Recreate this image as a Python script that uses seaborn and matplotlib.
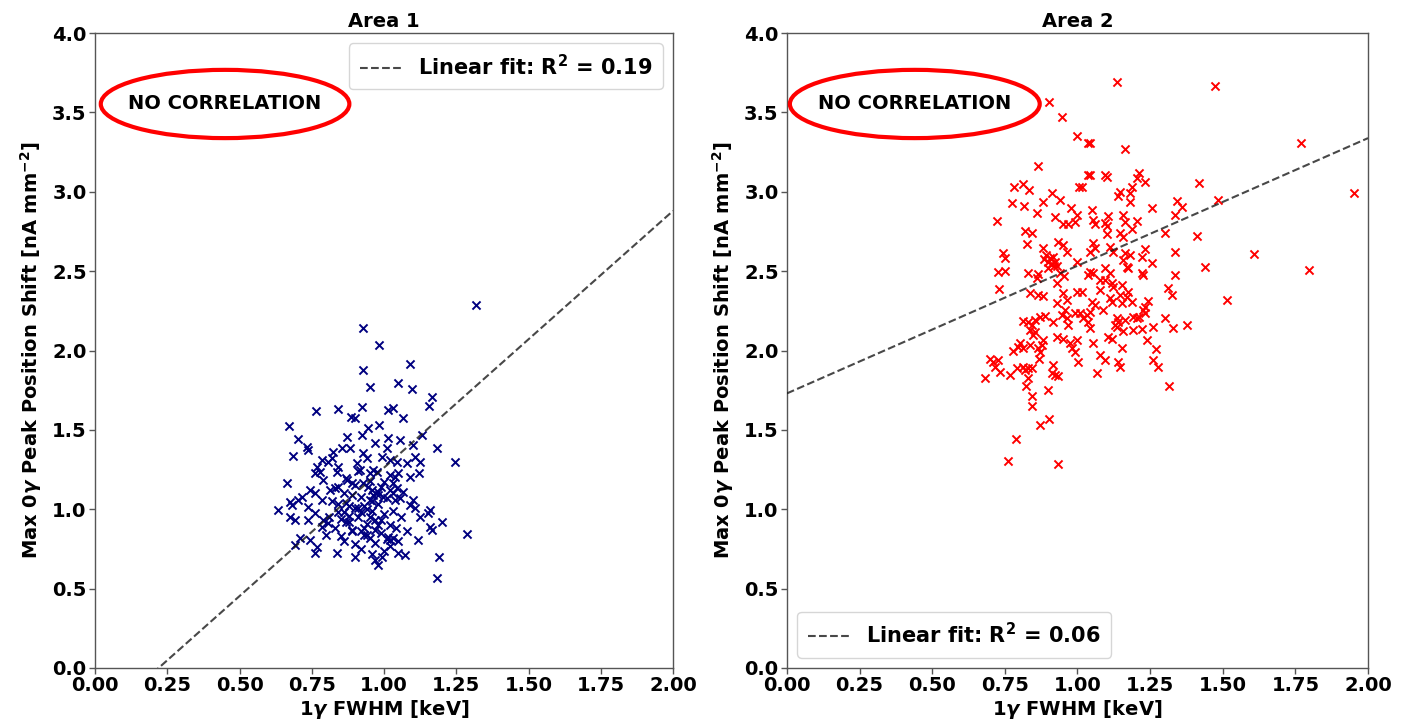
import numpy as np
import pandas as pd
import matplotlib
matplotlib.use("Agg")
import matplotlib.pyplot as plt
from matplotlib.patches import Ellipse
import seaborn as sns

# ---- Area 1: 1-gamma FWHM [keV] vs max 0-gamma peak position shift [nA mm^-2]
area1_fwhm = [
    1.317, 0.926, 0.984, 1.090, 0.926, 0.952, 1.049, 1.096, 1.165, 1.156,
    0.765, 0.840, 0.923, 0.886, 0.900, 1.013, 1.032, 1.067, 0.672, 0.984,
    0.946, 0.703, 0.871, 0.923, 1.015, 1.055, 1.130, 0.733, 0.738, 0.686,
    0.854, 0.882, 0.825, 0.784, 0.807, 0.819, 0.767, 0.779, 0.761, 0.836,
    0.842, 0.906, 0.917, 0.871, 0.888, 0.663, 0.790, 0.744, 0.761, 0.813,
    0.830, 0.715, 0.703, 0.675, 0.681, 0.784, 0.738, 0.634, 0.675, 0.692,
    0.761, 0.738, 0.790, 0.807, 0.784, 0.709, 0.692, 0.744, 0.767, 0.761,
    0.836, 0.969, 1.009, 1.101, 1.182, 1.246, 0.928, 0.940, 0.992, 1.021,
    1.044, 1.079, 1.107, 1.125, 0.963, 0.952, 0.975, 1.021, 1.038, 1.049,
    1.090, 1.122, 0.928, 0.946, 1.032, 1.044, 0.980, 0.998, 0.963, 1.067,
    1.055, 1.038, 1.101, 1.090, 1.107, 1.159, 1.153, 1.125, 1.200, 1.159,
    1.165, 1.286, 1.119, 1.015, 1.021, 1.032, 1.049, 1.073, 0.992, 0.980,
    1.190, 1.184,
    0.82, 0.84, 0.86, 0.87, 0.88, 0.89, 0.90, 0.91, 0.92, 0.93,
    0.94, 0.95, 0.96, 0.97, 0.98, 0.99, 1.00, 1.01, 1.02, 1.03,
    0.83, 0.85, 0.87, 0.90, 0.92, 0.94, 0.95, 0.97, 0.99, 1.00,
    0.81, 0.86, 0.88, 0.91, 0.93, 0.96, 0.98, 1.04, 1.06, 1.08,
    0.80, 0.84, 0.89, 0.92, 0.95, 0.97, 0.90, 0.96, 1.02, 1.05,
    0.85, 0.87, 0.89, 0.91, 0.93, 0.95, 0.97, 0.99, 1.01, 1.03,
    0.84, 0.88, 0.92, 0.96, 1.00, 0.86, 0.90, 0.94, 0.98, 1.02,
]
area1_shift = [
    2.287, 2.140, 2.035, 1.915, 1.877, 1.768, 1.793, 1.756, 1.705, 1.650,
    1.619, 1.630, 1.646, 1.583, 1.573, 1.625, 1.636, 1.573, 1.524, 1.530,
    1.510, 1.441, 1.457, 1.468, 1.447, 1.436, 1.468, 1.394, 1.373, 1.335,
    1.384, 1.384, 1.363, 1.310, 1.300, 1.321, 1.268, 1.237, 1.226, 1.237,
    1.268, 1.290, 1.247, 1.184, 1.163, 1.163, 1.184, 1.121, 1.100, 1.121,
    1.132, 1.079, 1.058, 1.048, 1.027, 1.058, 1.016, 0.995, 0.953, 0.932,
    0.974, 0.932, 0.932, 0.911, 0.890, 0.817, 0.775, 0.806, 0.764, 0.722,
    0.722, 1.415, 1.384, 1.405, 1.384, 1.296, 1.353, 1.321, 1.331, 1.310,
    1.300, 1.290, 1.331, 1.296, 1.247, 1.226, 1.237, 1.216, 1.205, 1.226,
    1.205, 1.226, 1.163, 1.142, 1.163, 1.132, 1.111, 1.079, 1.090, 1.111,
    1.069, 1.058, 1.058, 1.027, 1.006, 0.995, 0.974, 0.953, 0.922, 0.890,
    0.869, 0.842, 0.806, 0.827, 0.806, 0.817, 0.722, 0.712, 0.701, 0.649,
    0.697, 0.565,
    1.05, 0.98, 1.10, 0.92, 1.02, 0.86, 1.15, 0.95, 1.08, 0.88,
    1.00, 0.82, 1.12, 0.93, 1.03, 0.85, 0.97, 1.07, 0.90, 0.99,
    0.88, 0.83, 1.20, 0.78, 0.75, 0.91, 1.18, 0.79, 1.14, 0.74,
    0.95, 0.80, 0.96, 1.24, 1.02, 0.72, 0.90, 0.88, 0.95, 0.86,
    0.84, 1.14, 1.09, 0.98, 0.95, 0.68, 0.70, 1.05, 1.12, 0.80,
    0.94, 1.04, 0.87, 1.01, 0.84, 1.06, 0.87, 0.93, 0.81, 1.10,
    1.03, 0.92, 0.86, 0.99, 1.17, 0.98, 1.01, 0.84, 1.09, 0.77,
]

# ---- Area 2
area2_fwhm = [
    0.902, 0.946, 0.997, 1.037, 0.865, 1.037, 0.781, 0.813, 0.833, 1.006,
    0.773, 0.816, 0.882, 0.911, 0.940, 0.860, 0.923, 0.978, 0.997, 0.991,
    0.968, 0.951, 0.722, 0.819, 0.842, 0.825, 0.934, 0.951, 0.882, 0.745,
    0.750, 0.963, 0.997,
    0.893, 0.905, 0.898, 0.915, 0.922, 0.885, 0.910, 0.930, 0.900, 0.940,
    0.955, 0.920,
    1.137, 1.473, 1.043, 1.164, 1.043, 1.095, 1.101, 1.213, 1.204, 1.232,
    1.419, 1.014, 1.146, 1.140, 1.187, 1.179, 1.181, 1.485, 1.341, 1.359,
    1.336, 1.255, 1.049, 1.106, 1.158, 1.164, 1.052, 1.060, 1.095, 1.101,
    1.206, 1.187, 1.146, 1.158, 1.101, 1.301, 1.412, 1.054, 1.060, 1.043,
    1.112, 1.123, 1.232, 1.336, 1.164, 1.181, 1.158, 1.221, 1.255, 1.439,
    1.769, 1.953, 1.608, 1.798, 1.514,
    0.727, 0.750, 0.831, 0.865, 0.860, 0.928, 0.731, 0.836, 0.865, 0.882,
    0.949, 0.963, 0.997, 0.928, 0.957, 0.946, 0.963, 0.991, 0.813, 0.831,
    0.854, 0.842, 0.871, 0.888, 0.917, 0.968, 0.836, 0.854, 0.848, 0.882,
    0.877, 0.928, 0.951, 0.974, 0.997, 0.802, 0.796, 0.813, 0.836, 0.865,
    0.871, 0.779, 0.980, 0.991, 0.868, 0.699, 0.710, 0.727, 0.716, 0.733,
    0.791, 0.813, 0.831, 0.819, 0.842, 0.768, 0.917, 0.911, 0.923, 0.934,
    1.003, 0.682, 0.831, 0.823, 0.900, 0.842, 0.842, 0.903, 0.871, 0.788,
    0.760, 0.932,
    1.169, 1.175, 1.043, 1.054, 1.037, 1.095, 1.112, 1.221, 1.227, 1.336,
    1.077, 1.095, 1.118, 1.123, 1.152, 1.077, 1.014, 1.175, 1.169, 1.146,
    1.313, 1.325, 1.112, 1.118, 1.049, 1.060, 1.152, 1.187, 1.243, 1.232,
    1.009, 1.020, 1.032, 1.043, 1.037, 1.089, 1.135, 1.140, 1.164, 1.227,
    1.232, 1.192, 1.204, 1.213, 1.301, 1.043, 1.129, 1.135, 1.158, 1.192,
    1.221, 1.259, 1.328, 1.378, 1.106, 1.118, 1.238, 1.054, 1.152, 1.270,
    1.077, 1.095, 1.140, 1.146, 1.261, 1.278, 1.068, 1.315,
]
area2_shift = [
    3.563, 3.473, 3.353, 3.305, 3.164, 3.106, 3.028, 3.049, 3.011, 3.032,
    2.927, 2.910, 2.937, 2.990, 2.948, 2.864, 2.843, 2.896, 2.854, 2.811,
    2.797, 2.797, 2.818, 2.755, 2.738, 2.671, 2.685, 2.665, 2.644, 2.612,
    2.581, 2.622, 2.559,
    2.600, 2.580, 2.560, 2.590, 2.560, 2.575, 2.545, 2.535, 2.520, 2.490,
    2.470, 2.530,
    3.693, 3.668, 3.309, 3.269, 3.106, 3.106, 3.095, 3.120, 3.085, 3.063,
    3.057, 3.032, 3.000, 2.973, 3.032, 2.990, 2.937, 2.948, 2.942, 2.906,
    2.854, 2.900, 2.885, 2.847, 2.854, 2.811, 2.822, 2.797, 2.801, 2.784,
    2.818, 2.763, 2.738, 2.717, 2.734, 2.738, 2.723, 2.675, 2.644, 2.622,
    2.654, 2.622, 2.637, 2.622, 2.614, 2.600, 2.570, 2.591, 2.549, 2.528,
    3.309, 2.994, 2.606, 2.507, 2.318,
    2.496, 2.503, 2.490, 2.482, 2.455, 2.423, 2.387, 2.360, 2.350, 2.343,
    2.360, 2.318, 2.370, 2.297, 2.255, 2.224, 2.203, 2.234, 2.186, 2.181,
    2.192, 2.161, 2.213, 2.217, 2.181, 2.161, 2.129, 2.118, 2.098, 2.066,
    2.035, 2.083, 2.071, 2.049, 2.066, 2.045, 2.024, 2.014, 2.035, 2.014,
    1.993, 1.997, 2.014, 1.993, 1.946, 1.945, 1.929, 1.940, 1.898, 1.866,
    1.888, 1.898, 1.888, 1.877, 1.888, 1.846, 1.909, 1.856, 1.846, 1.839,
    1.929, 1.825, 1.825, 1.776, 1.751, 1.713, 1.650, 1.567, 1.531, 1.441,
    1.306, 1.283,
    2.528, 2.518, 2.496, 2.486, 2.476, 2.518, 2.490, 2.486, 2.476, 2.476,
    2.444, 2.444, 2.423, 2.402, 2.413, 2.381, 2.367, 2.370, 2.339, 2.350,
    2.392, 2.350, 2.329, 2.307, 2.307, 2.287, 2.301, 2.307, 2.314, 2.276,
    2.234, 2.203, 2.224, 2.245, 2.181, 2.255, 2.203, 2.181, 2.192, 2.255,
    2.234, 2.209, 2.203, 2.209, 2.203, 2.140, 2.161, 2.150, 2.125, 2.129,
    2.135, 2.146, 2.140, 2.161, 2.087, 2.071, 2.066, 2.045, 2.014, 2.008,
    1.972, 1.940, 1.929, 1.898, 1.940, 1.898, 1.856, 1.776,
]

# Linear fit results (slope, intercept, R^2) per area
fit_slope = [1.618, 0.804]
fit_intercept = [-0.356, 1.73]
fit_r2 = ["0.19", "0.06"]

area_titles = ["Area 1", "Area 2"]
marker_colors = ["navy", "red"]
legend_locs = ["upper right", "lower left"]
note_centers = [0.45, 0.44]

x_ticks = [0.00, 0.25, 0.50, 0.75, 1.00, 1.25, 1.50, 1.75, 2.00]
y_ticks = [0.0, 0.5, 1.0, 1.5, 2.0, 2.5, 3.0, 3.5, 4.0]

sns.set_theme(style="ticks")
plt.rcParams["font.family"] = ["DejaVu Sans"]
plt.rcParams["font.weight"] = "bold"
plt.rcParams["axes.labelweight"] = "bold"
plt.rcParams["axes.titleweight"] = "bold"
plt.rcParams["text.color"] = "black"
plt.rcParams["axes.labelcolor"] = "black"
plt.rcParams["xtick.color"] = "black"
plt.rcParams["ytick.color"] = "black"

fig = plt.figure(figsize=(14.2, 7.26), dpi=100)
ax1 = fig.add_axes([0.0669, 0.0799, 0.4071, 0.8746])
ax2 = fig.add_axes([0.5542, 0.0799, 0.4092, 0.8746])

datasets = [(area1_fwhm, area1_shift), (area2_fwhm, area2_shift)]

for i, ax in enumerate([ax1, ax2]):
    xs, ys = datasets[i]
    df = pd.DataFrame({"fwhm": xs, "shift": ys})
    sns.scatterplot(data=df, x="fwhm", y="shift", marker="x", color=marker_colors[i],
                    s=34, linewidth=1.4, ax=ax, zorder=3)

    xfit = np.array([0.0, 2.0])
    fit_df = pd.DataFrame({"fwhm": xfit, "shift": fit_slope[i] * xfit + fit_intercept[i]})
    sns.lineplot(data=fit_df, x="fwhm", y="shift", color="k", alpha=0.8, linewidth=1.5,
                 linestyle="--", ax=ax, label=f"Linear fit: R$^2$ = {fit_r2[i]}", zorder=4)

    ax.set_xlim(0, 2)
    ax.set_ylim(0, 4)
    ax.set_xticks(x_ticks)
    ax.set_yticks(y_ticks)
    ax.set_xticklabels([f"{t:.2f}" for t in x_ticks])
    ax.set_yticklabels([f"{t:.1f}" for t in y_ticks])
    ax.tick_params(labelsize=14, length=4, width=1, color="#555555", labelcolor="black", pad=2)
    for lab in ax.get_xticklabels() + ax.get_yticklabels():
        lab.set_fontweight("bold")
    for sp in ax.spines.values():
        sp.set_color("#555555")
        sp.set_linewidth(1.0)

    ax.set_xlabel(r"1$\gamma$ FWHM [keV]", fontsize=14, fontweight="bold", labelpad=2, color="black")
    ax.set_ylabel(r"Max 0$\gamma$ Peak Position Shift [nA mm$^{-2}$]",
                  fontsize=14, fontweight="bold", labelpad=6, color="black")
    ax.set_title(area_titles[i], fontsize=14, fontweight="bold", pad=4, color="black")

    leg = ax.legend(loc=legend_locs[i], prop={"weight": "bold", "size": 15},
                    handlelength=2.0, borderpad=0.5, frameon=True)
    for t in leg.get_texts():
        t.set_color("black")

    ell = Ellipse((note_centers[i], 3.553), width=0.86, height=0.43,
                  fill=False, edgecolor="red", linewidth=3, zorder=5)
    ax.add_patch(ell)
    ax.text(note_centers[i], 3.553, "NO CORRELATION", ha="center", va="center",
            fontsize=14, fontweight="bold", color="black", zorder=6)

fig.savefig("out.png", dpi=100)
